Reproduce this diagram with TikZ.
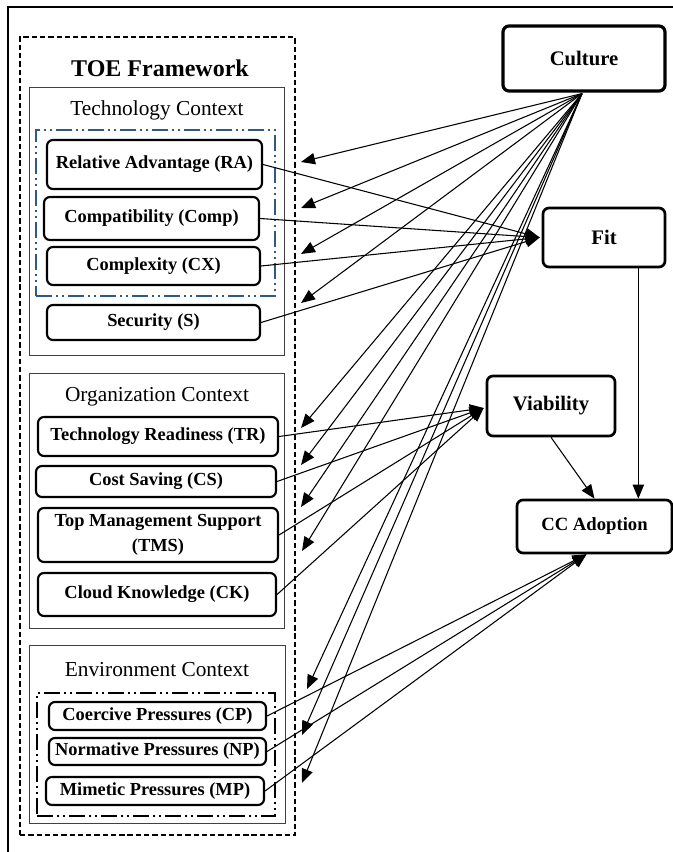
\documentclass[tikz,border=0pt]{standalone}
\usepackage{fontspec}
\setmainfont{Liberation Serif}
\usetikzlibrary{arrows.meta,calc}
\definecolor{dashblue}{HTML}{2E5A87}
\definecolor{ctxgray}{HTML}{404040}
\begin{document}
\begin{tikzpicture}[x=0.75pt,y=-0.75pt,
  sz/.style 2 args={minimum width=#1*0.75pt, minimum height=#2*0.75pt},
  rbox/.style={draw, rounded corners=4.5pt, line width=1.6pt, align=center, inner sep=0pt,
    font=\bfseries\fontsize{13.8}{19}\selectfont},
  bigbox/.style={rbox, line width=2pt, font=\bfseries\fontsize{15.5}{19}\selectfont},
  ctxbox/.style={draw=ctxgray, line width=0.6pt, inner sep=0pt},
  ctxlabel/.style={font=\fontsize{16}{19}\selectfont, inner sep=0pt},
  groupblue/.style={draw=dashblue, line width=1.5pt, inner sep=0pt,
    dash pattern=on 12pt off 3pt on 1.5pt off 3pt on 1.5pt off 3pt},
  groupblack/.style={draw, line width=1.5pt, inner sep=0pt,
    dash pattern=on 12pt off 3pt on 1.5pt off 3pt on 1.5pt off 3pt},
  outerdash/.style={draw, line width=1.6pt, inner sep=0pt, dash pattern=on 4pt off 2.2pt},
  arr/.style={-{Triangle[length=10.5pt,width=8.5pt]}, line width=0.8pt}
]
\useasboundingbox (0,0) rectangle (673,852);
% page frame
\coordinate (fa) at (8,852);
\coordinate (fb) at (8,7);
\coordinate (fc) at (673,7);
\draw[line width=1.5pt] (fa) -- (fb) -- (fc);

% containers
\node[outerdash, sz={275}{798}] (outer) at (157.5,436) {};
\node[font=\bfseries\fontsize{18}{20}\selectfont, inner sep=0pt] (title) at (160,68) {TOE Framework};

\node[ctxbox, sz={255}{268}] (tech) at (156.5,221) {};
\node[ctxlabel] (techl) at (157,110) {Technology Context};
\node[groupblue, sz={239}{166}] (techg) at (155.5,213) {};

\node[ctxbox, sz={255}{255}] (org) at (156.5,500.5) {};
\node[ctxlabel] (orgl) at (157,397) {Organization Context};

\node[ctxbox, sz={256}{178}] (env) at (157,734) {};
\node[ctxlabel] (envl) at (157,670) {Environment Context};
\node[groupblack, sz={238}{123}] (envg) at (156,754.5) {};

% factor nodes
\node[rbox, sz={215}{49}] (ra) at (154.5,164.5) {Relative Advantage (RA)};
\node[rbox, sz={215}{43}] (comp) at (151.5,218.5) {Compatibility (Comp)};
\node[rbox, sz={213}{38}] (cx) at (153.5,266) {Complexity (CX)};
\node[rbox, sz={213}{35}] (s) at (153.5,322.5) {Security (S)};

\node[rbox, sz={240}{39}] (tr) at (158,436.5) {Technology Readiness (TR)};
\node[rbox, sz={240}{31}] (cs) at (156,481.5) {Cost Saving (CS)};
\node[rbox, sz={240}{54}] (tms) at (158,535) {Top Management Support\\(TMS)};
\node[rbox, sz={238}{43}] (ck) at (157,594.5) {Cloud Knowledge (CK)};

\node[rbox, sz={217}{28}] (cp) at (157.5,716) {Coercive Pressures (CP)};
\node[rbox, sz={217}{27}] (np) at (157.5,751.5) {Normative Pressures (NP)};
\node[rbox, sz={218}{28}] (mp) at (155,791) {Mimetic Pressures (MP)};

% right nodes
\node[bigbox, line width=2.4pt, sz={162}{65}] (culture) at (584,58.5) {Culture};
\node[bigbox, sz={122}{59}] (fit) at (604,237.5) {Fit};
\node[bigbox, sz={128}{60}] (via) at (551,406) {Viability};
\node[rbox, line width=2pt, font=\bfseries\fontsize{14}{19}\selectfont, sz={155}{53}] (cc) at (594.5,526.5) {CC Adoption};

% culture arrow end points
\coordinate (c1) at (301,162);
\coordinate (c2) at (301,208);
\coordinate (c3) at (301,254);
\coordinate (c4) at (301,303);
\coordinate (c5) at (301,428);
\coordinate (c6) at (301,465);
\coordinate (c7) at (301,507);
\coordinate (c8) at (302,551);
\coordinate (c9) at (307,689);
\coordinate (c10) at (302,735);
\coordinate (c11) at (302,783);
\coordinate (cu) at ($(culture.south)+(-2,1)$);
\foreach \i in {1,...,11} \draw[arr] (cu) -- (c\i);

% to Fit
\coordinate (fitin) at ($(fit.west)+(-2,0)$);
\foreach \n in {ra,comp,cx,s} \draw[arr] (\n.east) -- (fitin);

% to Viability
\coordinate (viain) at ($(via.west)+(-2,2)$);
\foreach \n in {tr,cs,tms,ck} \draw[arr] (\n.east) -- (viain);

% to CC Adoption
\coordinate (ccin) at ($(cc.south)+(-8,0)$);
\foreach \n in {cp,np,mp} \draw[arr] (\n.east) -- (ccin);

\draw[arr] (via.south) -- (cc.north);
\coordinate (fitout) at ($(fit.south east)+(-28,0)$);
\draw[arr] (fitout) -- (fitout |- cc.north);
\end{tikzpicture}
\end{document}
